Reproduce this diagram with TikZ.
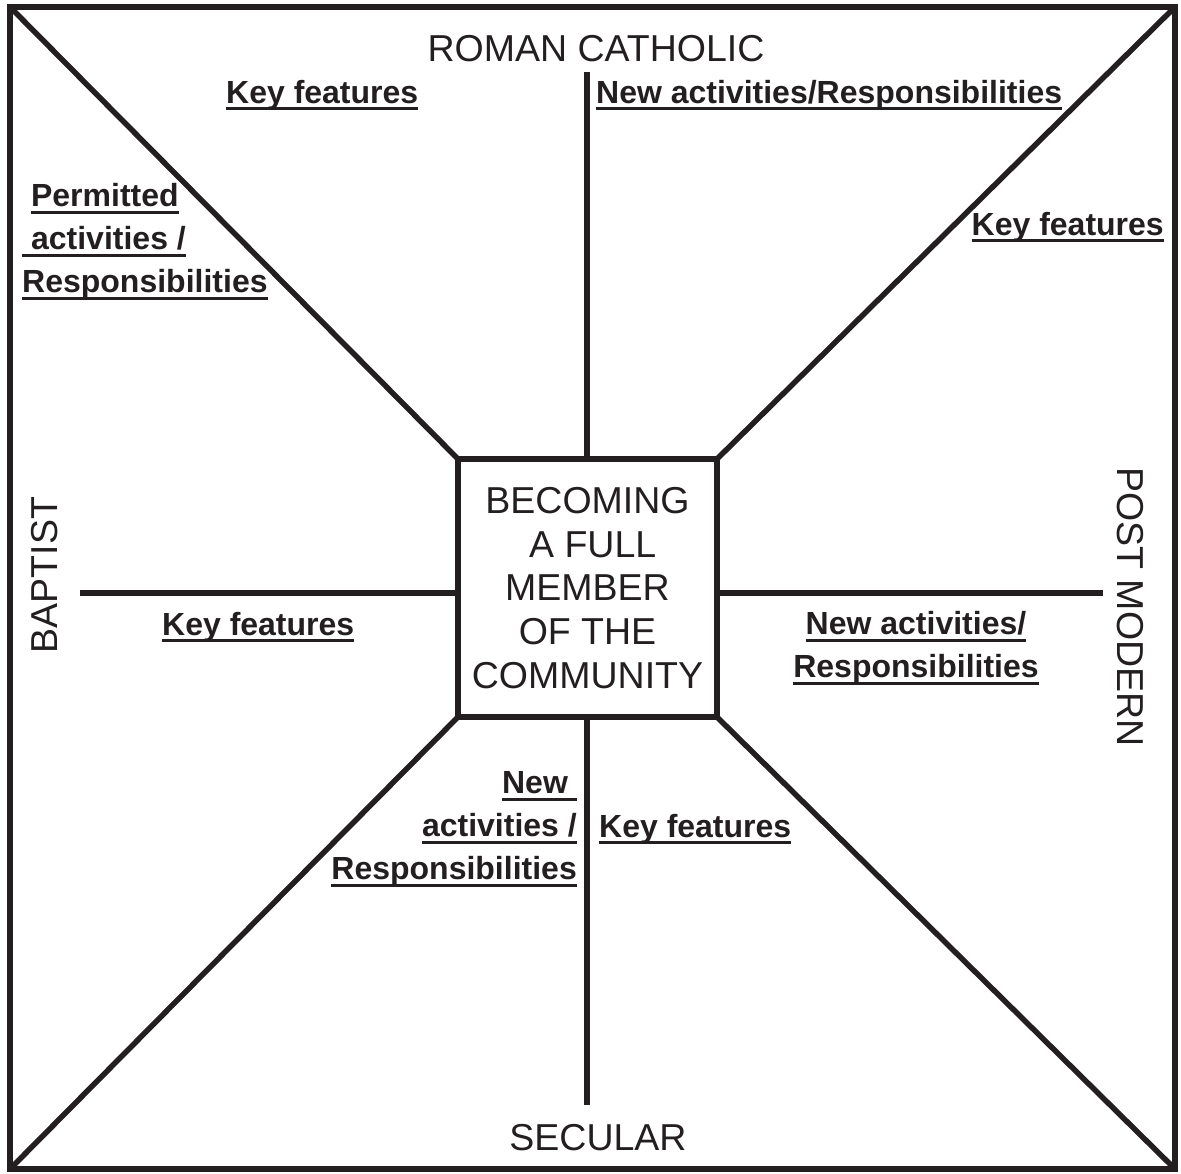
\documentclass[tikz,border=0pt]{standalone}
\usepackage{fontspec}
\setmainfont{Liberation Sans}
\usepackage{tikz}
\usetikzlibrary{positioning}
\definecolor{ink}{RGB}{35,31,32}
\newsavebox{\ulbx}
\newcommand{\ulabel}[1]{\leavevmode\sbox{\ulbx}{#1}\rlap{\usebox{\ulbx}}\rule[-0.23em]{\wd\ulbx}{0.09em}}

\begin{document}
\begin{tikzpicture}[x=1pt,y=-1pt,
    big/.style={font=\fontsize{37.5}{43.6}\selectfont,inner sep=0pt,text=ink},
    lbl/.style={font=\bfseries\fontsize{32}{43}\selectfont,inner sep=0pt,text=ink},
    spoke/.style={draw=ink,line width=5.5pt}]
  \useasboundingbox (0,0) rectangle (1181,1173);

  % ---------- frame and centre ----------
  \node[draw=ink,line width=5.5pt,minimum width=1165pt,minimum height=1162pt,
        inner sep=0pt,outer sep=0pt] (frame) at (592.5,588) {};
  \node[draw=ink,line width=5.5pt,minimum width=259pt,minimum height=258pt,
        outer sep=0pt,big,align=center] (core) at (587.5,588)
    {BECOMING\\~A FULL\\MEMBER\\OF THE\\COMMUNITY};

  \coordinate (nEnd) at (587,72);
  \coordinate (sEnd) at (587,1105);
  \coordinate (wEnd) at (80,593);
  \coordinate (eEnd) at (1103,593);

  \draw[spoke] (core.north -| nEnd) -- (nEnd);
  \draw[spoke] (core.south -| sEnd) -- (sEnd);
  \draw[spoke] (core.west |- wEnd) -- (wEnd);
  \draw[spoke] (core.east |- eEnd) -- (eEnd);

  \draw[spoke] (frame.north west) -- (core.north west);
  \draw[spoke] (frame.north east) -- (core.north east);
  \draw[spoke] (frame.south west) -- (core.south west);
  \draw[spoke] (frame.south east) -- (core.south east);

  % ---------- headings ----------
  \node[big,anchor=base] (rc) at (596,61) {ROMAN CATHOLIC};
  \node[big,rotate=90] (bap) at (45,575) {BAPTIST};
  \node[big,rotate=-90] (pm) at (1130,607) {POST MODERN};
  \node[big,anchor=base] (sec) at (598,1150) {SECULAR};

  % ---------- labels ----------
  \node[lbl,anchor=base west] (kfN) at (226,103) {\ulabel{Key features}};
  \node[lbl,anchor=base west] (naN) at (596,103) {\ulabel{New activities/Responsibilities}};
  \node[lbl,anchor=base east] (kfNE) at (1164,235) {\ulabel{Key features}};
  \node[lbl,anchor=north west,align=left] (paNW) at (22,183)
    {~\ulabel{Permitted}\\\ulabel{ activities /}\\\ulabel{Responsibilities}};
  \node[lbl,anchor=base west] (kfW) at (162,635) {\ulabel{Key features}};
  \node[lbl,anchor=north,align=center] (naE) at (916,611)
    {\ulabel{New activities/}\\\ulabel{Responsibilities}};
  \node[lbl,anchor=north east,align=right] (naS) at (577,771)
    {\ulabel{New }\\\ulabel{activities /}\\\ulabel{Responsibilities}};
  \node[lbl,anchor=base west] (kfS) at (599,837) {\ulabel{Key features}};
\end{tikzpicture}
\end{document}
